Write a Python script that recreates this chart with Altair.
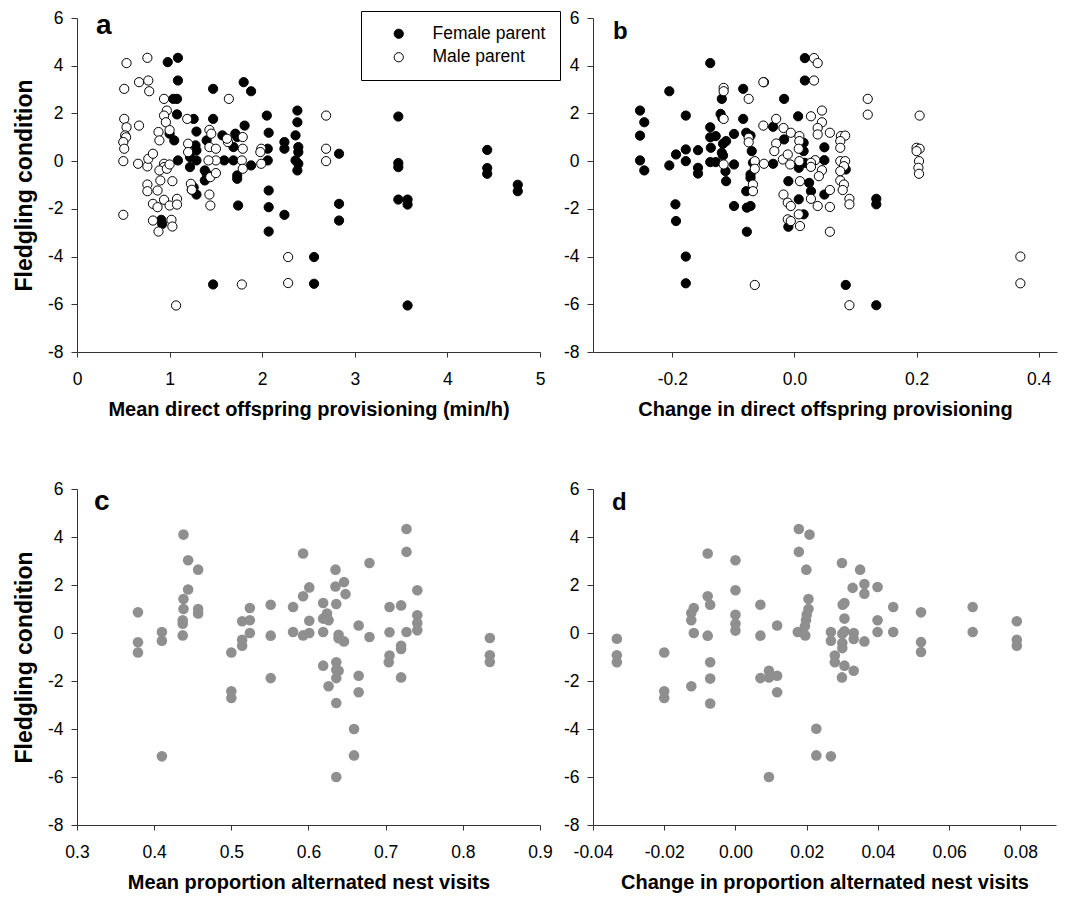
import altair as alt
import pandas as pd

FONT = "Liberation Sans"

# ---------------- Panel a: mean direct provisioning (min/h) ----------------
a_female_x = [0.98, 1.09, 1.09, 1.04, 1.08, 1.08, 1.26, 1.29, 1.00, 1.05, 1.09, 1.22, 1.22, 1.28, 1.29, 1.29,
              1.26, 1.24, 1.29, 0.91, 0.92, 1.47, 1.47, 1.40, 1.38, 1.40, 1.38, 1.59, 1.57, 1.71, 1.73, 1.69,
              1.69, 1.73, 1.73, 1.74, 1.80, 1.88, 1.81, 1.88, 1.47, 2.05, 2.07, 2.06, 2.06, 2.07, 2.07, 2.07,
              2.24, 2.24, 2.24, 2.38, 2.38, 2.36, 2.39, 2.39, 2.36, 2.39, 2.38, 2.56, 2.56, 2.83, 2.83, 2.83,
              3.47, 3.47, 3.47, 3.47, 3.57, 3.57, 3.57, 4.43, 4.43, 4.43, 4.76, 4.76]
a_female_y = [4.15, 4.33, 3.38, 2.61, 2.61, 1.96, 1.77, 1.24, 1.15, 0.87, 0.03, 0.17, -0.25, 0.66, 0.45, 0.03,
              -1.10, -1.20, -1.40, -2.46, -2.63, 3.03, 1.77, 0.87, -0.39, -0.53, -0.81, 0.03, 1.08, 1.15, 1.01, 0.59,
              0.03, -0.60, -0.74, -1.86, 3.31, 2.93, 1.49, -0.18, -5.17, 1.91, 1.19, 0.52, 0.03, -1.23, -1.93, -2.95,
              0.80, 0.52, -2.25, 2.12, 1.63, 1.08, 0.59, 0.38, 0.03, -0.11, -0.39, -4.02, -5.14, 0.31, -1.79, -2.49,
              1.87, -0.08, -0.25, -1.61, -1.61, -1.82, -6.05, 0.47, -0.29, -0.53, -0.99, -1.26]
a_male_x = [0.535, 0.76, 0.51, 0.67, 0.77, 0.78, 0.94, 0.97, 0.94, 0.96, 0.51, 0.535, 0.67, 0.52, 0.53, 0.50,
            0.51, 0.50, 0.66, 0.76, 0.77, 0.82, 0.88, 0.89, 1.00, 0.94, 0.94, 0.89, 0.97, 1.00, 0.76, 0.76,
            0.87, 0.90, 1.03, 0.82, 0.87, 0.94, 1.00, 1.08, 1.08, 0.50, 0.82, 0.88, 1.02, 1.03, 1.07, 1.20,
            1.20, 1.19, 1.23, 1.24, 1.43, 1.45, 1.43, 1.50, 1.50, 1.42, 1.44, 1.50, 1.43, 1.44, 1.64, 1.63,
            1.62, 1.79, 1.79, 1.78, 1.79, 1.78, 1.99, 1.99, 1.98, 2.28, 2.28, 2.69, 2.69, 2.69]
a_male_y = [4.11, 4.33, 3.03, 3.31, 3.38, 2.93, 2.61, 2.12, 1.91, 1.63, 1.77, 1.42, 1.49, 1.08, 1.00, 0.80,
            0.52, 0.00, -0.11, -0.22, 0.10, 0.31, 1.22, 0.87, 1.30, -0.11, -0.25, -0.39, -0.32, -0.14, -0.98, -1.26,
            -1.23, -0.81, -0.84, -1.79, -1.93, -1.62, -1.86, -1.58, -1.82, -2.25, -2.49, -2.95, -2.46, -2.74, -6.05, 0.73,
            0.38, 1.77, -0.95, -1.20, 1.31, 1.15, 0.59, 0.52, 0.03, 0.03, -0.67, -0.50, -1.40, -1.86, 2.61, 0.80,
            0.94, 1.01, 0.52, 0.03, -0.32, -5.17, 0.52, -0.11, 0.38, -4.02, -5.11, 1.91, 0.52, 0.00]

# ---------------- Panel b: change in direct provisioning ----------------
b_female_x = [-0.253, -0.246, -0.253, -0.253, -0.246, -0.205, -0.205, -0.194, -0.195, -0.194, -0.178, -0.178,
              -0.178, -0.178, -0.178, -0.158, -0.158, -0.158, -0.138, -0.138, -0.138, -0.129, -0.137, -0.138,
              -0.129, -0.119, -0.121, -0.118, -0.117, -0.112, -0.119, -0.117, -0.113, -0.112, -0.099, -0.099,
              -0.099, -0.084, -0.084, -0.079, -0.072, -0.070, -0.068, -0.072, -0.072, -0.079, -0.078, -0.072,
              -0.078, -0.050, -0.035, -0.035, -0.017, -0.017, -0.010, -0.010, 0.006, 0.007, 0.015, 0.015,
              0.017, 0.007, 0.015, 0.017, 0.017, 0.024, 0.027, 0.049, 0.049, 0.049, 0.084, 0.084, 0.134,
              0.134, 0.134]
b_female_y = [2.12, 1.63, 1.07, 0.03, -0.39, 2.93, -0.18, 0.28, -1.81, -2.51, 1.91, 0.49,
              0.00, -4.00, -5.12, 0.46, -0.28, -0.52, 4.11, 1.42, 1.00, 1.05, 0.56, -0.04,
              -0.04, 2.61, 1.98, 1.81, 0.73, 0.84, 0.35, 0.24, -0.42, -0.84, 1.14, -0.14,
              -1.88, 3.03, 1.77, 1.19, 1.07, 0.42, -0.07, -0.56, -0.70, -1.26, -1.95, -1.88,
              -2.96, 3.31, 1.44, -0.11, 2.61, 0.91, -0.84, -2.75, 1.88, -1.60, 0.77, 0.42,
              -0.07, -0.28, -2.23, 4.32, 3.38, -0.91, -1.26, 0.58, 0.04, -1.40, -0.35, -5.19, -1.58,
              -1.81, -6.04]
b_male_x = [-0.116, -0.116, -0.116, -0.116, -0.075, -0.051, -0.051, -0.030, -0.075, -0.075, -0.065, -0.065,
            -0.068, -0.068, -0.050, -0.065, -0.018, -0.006, -0.030, -0.033, -0.019, -0.011, -0.007, 0.008,
            0.008, 0.007, 0.008, 0.009, -0.018, -0.011, -0.006, -0.011, -0.006, 0.009, 0.007, 0.032,
            0.038, 0.032, 0.120, 0.120, 0.205, 0.045, 0.027, 0.045, 0.038, 0.038, 0.058, 0.076,
            0.083, 0.075, 0.075, 0.034, 0.027, 0.027, 0.045, 0.040, 0.075, 0.083, 0.081, 0.075,
            0.075, 0.081, 0.079, 0.058, 0.027, 0.038, 0.058, 0.090, 0.090, 0.058, 0.200, 0.205,
            0.200, 0.204, 0.203, 0.204, 0.090, 0.370, 0.370]
b_male_y = [3.07, 2.93, 1.77, -0.14, 2.61, 3.31, 1.49, 1.77, 0.98, 0.79, 0.00, -0.32,
            -0.98, -1.26, -0.11, -5.19, 1.39, 1.19, 0.74, 0.42, 0.07, 0.28, -0.14, 1.05,
            0.84, 0.52, 0.00, -0.84, -1.40, -1.74, -1.88, -2.44, -2.51, -2.72, -2.23, 4.32,
            4.11, 3.38, 2.61, 1.95, 1.91, 2.12, 1.88, 1.63, 1.39, 1.12, 1.19, 1.05,
            1.07, 0.84, 0.56, 0.04, -0.07, -0.24, -0.38, -0.63, 0.00, 0.00, -0.21, -0.42,
            -0.81, -0.98, -1.21, -1.21, -1.58, -1.88, -1.92, -1.58, -1.81, -2.96, 0.56, 0.52,
            0.42, 0.00, -0.28, -0.53, -6.04, -4.00, -5.12]

# ---------------- Panel c: mean proportion alternated nest visits ----------------
c_x = [0.379, 0.379, 0.379, 0.410, 0.410, 0.410, 0.438, 0.444, 0.457, 0.444, 0.438, 0.438, 0.437, 0.437,
       0.437, 0.457, 0.457, 0.500, 0.500, 0.500, 0.514, 0.514, 0.514, 0.524, 0.524, 0.524, 0.551, 0.551,
       0.551, 0.580, 0.580, 0.593, 0.593, 0.593, 0.601, 0.601, 0.601, 0.619, 0.619, 0.624, 0.626, 0.619,
       0.619, 0.626, 0.635, 0.635, 0.646, 0.648, 0.636, 0.636, 0.636, 0.639, 0.639, 0.646, 0.636, 0.636,
       0.639, 0.636, 0.727, 0.727, 0.679, 0.741, 0.705, 0.720, 0.741, 0.741, 0.741, 0.727, 0.705, 0.720,
       0.720, 0.705, 0.704, 0.720, 0.679, 0.665, 0.665, 0.665, 0.659, 0.659, 0.835, 0.835, 0.835]
c_y = [0.86, -0.39, -0.81, 0.04, -0.32, -5.14, 4.10, 3.03, 2.64, 1.81, 1.42, 1.00, 0.53, 0.39,
       -0.10, 1.00, 0.81, -0.81, -2.43, -2.71, 0.49, -0.28, -0.53, 1.04, 0.53, 0.00, 1.18, -0.11,
       -1.88, 1.08, 0.04, 3.31, 1.53, -0.10, 1.90, 0.51, 0.00, 1.25, 0.60, 0.81, 0.53, 0.04,
       -1.36, -2.22, 2.64, 1.94, 2.12, 1.62, 1.21, -2.92, -6.00, -0.07, -0.22, -0.35, -1.22, -1.53,
       -1.57, -1.88, 4.33, 3.38, 2.92, 1.78, 1.08, 1.15, 0.74, 0.42, 0.11, 0.04, 0.03, -0.53,
       -0.67, -0.94, -1.22, -1.85, -0.17, 0.31, -1.78, -2.47, -4.00, -5.10, -0.21, -0.93, -1.21]

# ---------------- Panel d: change in proportion alternated nest visits ----------------
d_x = [-0.0333, -0.0333, -0.0333, -0.0200, -0.0200, -0.0200, -0.0124, -0.0124, -0.0117, -0.0124, -0.0117,
       -0.0078, -0.0078, -0.0071, -0.0078, -0.0071, -0.0071, -0.0071, 0.0000, 0.0000, 0.0000, 0.0000,
       0.0000, 0.0070, 0.0070, 0.0070, 0.0094, 0.0094, 0.0094, 0.0117, 0.0117, 0.0117, 0.0178, 0.0178,
       0.0208, 0.0199, 0.0205, 0.0205, 0.0200, 0.0198, 0.0195, 0.0175, 0.0196, 0.0227, 0.0227, 0.0268,
       0.0299, 0.0350, 0.0329, 0.0362, 0.0362, 0.0399, 0.0301, 0.0306, 0.0306, 0.0268, 0.0268, 0.0300,
       0.0306, 0.0300, 0.0300, 0.0332, 0.0332, 0.0362, 0.0279, 0.0279, 0.0306, 0.0332, 0.0299, 0.0399,
       0.0399, 0.0443, 0.0443, 0.0521, 0.0521, 0.0521, 0.0666, 0.0666, 0.0790, 0.0790, 0.0790]
d_y = [-0.24, -0.93, -1.22, -0.81, -2.43, -2.71, -2.22, 0.83, 1.04, 0.53, 0.00,
       3.31, 1.53, 1.18, -0.11, -1.22, -1.90, -2.94, 3.03, 1.78, 0.76, 0.39,
       0.10, 1.18, -0.11, -1.88, -1.57, -1.85, -6.00, 0.31, -1.78, -2.47, 4.33, 3.38,
       4.10, 2.64, 1.42, 1.00, 0.76, 0.53, 0.28, 0.04, -0.10, -3.99, -5.10, -5.14,
       2.92, 2.64, 1.88, 2.04, 1.64, 1.92, 1.18, 1.25, 0.60, 0.04, -0.32, -0.03,
       0.07, -0.42, -0.63, 0.00, -0.25, -0.35, -0.94, -1.22, -1.36, -1.57, -1.85, 0.53,
       0.04, 1.08, 0.04, 0.86, -0.38, -0.79, 1.08, 0.04, 0.49, -0.28, -0.53]

SEX_DOMAIN = ["Female parent", "Male parent"]
Y_TICKS = [-8, -6, -4, -2, 0, 2, 4, 6]
Y_TITLE = "Fledgling condition"


def parent_frame(fx, fy, mx, my):
    rows = [{"x": x, "y": y, "sex": SEX_DOMAIN[0]} for x, y in zip(fx, fy)]
    rows += [{"x": x, "y": y, "sex": SEX_DOMAIN[1]} for x, y in zip(mx, my)]
    return pd.DataFrame(rows)


def minus_expr(fmt):
    return "(datum.value < 0 ? '-' : '') + format(abs(datum.value), '%s')" % fmt


def x_axis(values, fmt, title):
    return alt.Axis(values=values, labelExpr=minus_expr(fmt), title=title, tickSize=5,
                    labelPadding=13, titlePadding=12, titleFontSize=20, labelFlush=False)


def y_axis(title):
    return alt.Axis(values=Y_TICKS, labelExpr=minus_expr("d"), tickSize=6, labelPadding=8,
                    titlePadding=11, titleFontSize=23, title=title if title else "",
                    labelFlush=False)


def letter(ch, size, dx, dy):
    return alt.Chart(alt.Data(values=[{"t": ch}])).mark_text(
        align="left", baseline="alphabetic", fontSize=size, fontWeight="bold",
        font=FONT, color="black").encode(text="t:N", x=alt.value(dx), y=alt.value(dy))


def parent_panel(df, xdom, xticks, xfmt, xtitle, ytitle, show_legend):
    if show_legend:
        leg = alt.Legend(title=None, orient="none", legendX=284, legendY=-7,
                         strokeColor="black", fillColor="white", padding=14,
                         symbolOffset=15, labelOffset=25, rowPadding=4.5,
                         symbolSize=85, symbolType="circle", symbolStrokeColor="black",
                         symbolStrokeWidth=1, labelFontSize=17.5, labelFont=FONT,
                         labelColor="black")
    else:
        leg = None
    return alt.Chart(df).mark_point(filled=True, size=85, stroke="black", strokeWidth=1,
                                    opacity=1, fillOpacity=1).encode(
        x=alt.X("x:Q", scale=alt.Scale(domain=xdom, nice=False, zero=False),
                axis=x_axis(xticks, xfmt, xtitle)),
        y=alt.Y("y:Q", scale=alt.Scale(domain=[-8, 6], nice=False, zero=False),
                axis=y_axis(ytitle)),
        fill=alt.Fill("sex:N", scale=alt.Scale(domain=SEX_DOMAIN, range=["black", "white"]),
                      legend=leg),
    )


def gray_panel(xs, ys, xdom, xticks, xfmt, xtitle, ytitle):
    df = pd.DataFrame({"x": xs, "y": ys})
    return alt.Chart(df).mark_circle(size=112, color="#8f8f8f", opacity=1).encode(
        x=alt.X("x:Q", scale=alt.Scale(domain=xdom, nice=False, zero=False),
                axis=x_axis(xticks, xfmt, xtitle)),
        y=alt.Y("y:Q", scale=alt.Scale(domain=[-8, 6], nice=False, zero=False),
                axis=y_axis(ytitle)),
    )


df_a = parent_frame(a_female_x, a_female_y, a_male_x, a_male_y)
df_b = parent_frame(b_female_x, b_female_y, b_male_x, b_male_y)

pa = alt.layer(
    parent_panel(df_a, [0, 5], [0, 1, 2, 3, 4, 5], "d",
                 "Mean direct offspring provisioning (min/h)", Y_TITLE, True),
    letter("a", 28, 19, 16),
).properties(width=463, height=334)

pb = alt.layer(
    parent_panel(df_b, [-0.33, 0.43], [-0.2, 0.0, 0.2, 0.4], ".1f",
                 "Change in direct offspring provisioning", None, False),
    letter("b", 24, 20, 21),
).properties(width=464, height=334)

pc = alt.layer(
    gray_panel(c_x, c_y, [0.3, 0.9], [0.3, 0.4, 0.5, 0.6, 0.7, 0.8, 0.9], ".1f",
               "Mean proportion alternated nest visits", Y_TITLE),
    letter("c", 28, 17, 21),
).properties(width=463, height=336)

pd_ = alt.layer(
    gray_panel(d_x, d_y, [-0.04, 0.09], [-0.04, -0.02, 0.0, 0.02, 0.04, 0.06, 0.08], ".2f",
               "Change in proportion alternated nest visits", None),
    letter("d", 24, 19, 21),
).properties(width=463, height=336)

chart = alt.concat(pa, pb, pc, pd_, columns=2, spacing={"row": 137, "column": 53},
                   bounds="flush").resolve_scale(fill="independent").properties(
    padding={"left": 13, "top": 9, "right": 5, "bottom": 5},
    background="white",
).configure_view(stroke=None).configure_axis(
    grid=False, domainColor="#333333", tickColor="#333333", domainWidth=1, tickWidth=1,
    labelColor="black", titleColor="black", labelFont=FONT, titleFont=FONT,
    labelFontSize=17.5, titleFontWeight="bold",
)

chart.save("out.html", embed_options={"renderer": "svg", "actions": False})
